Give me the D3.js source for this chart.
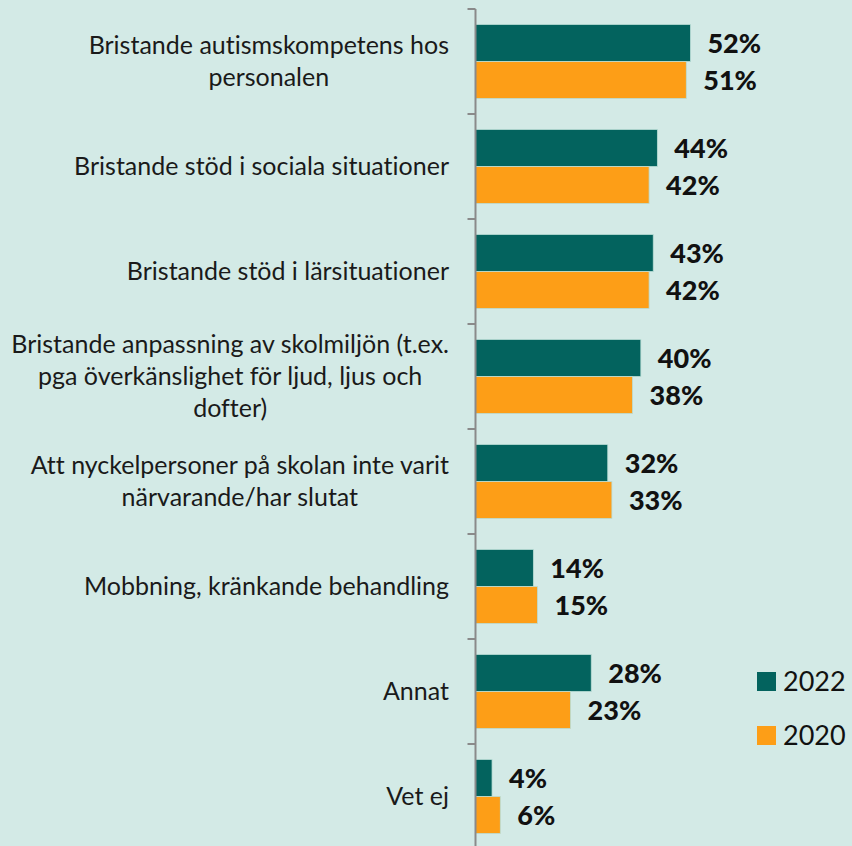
<!DOCTYPE html>
<html lang="sv">
<head>
<meta charset="utf-8">
<title>Orsaker</title>
<script src="https://cdn.jsdelivr.net/npm/d3@7"></script>
<style>
  html, body { margin: 0; padding: 0; background: #d3eae6; }
  svg { display: block; }
  text { font-variant-ligatures: none; font-feature-settings: "liga" 0, "clig" 0; }
</style>
</head>
<body>
<div id="chart"></div>
<script>
// data
var categories = [
  "Bristande autismskompetens hos|personalen",
  "Bristande stöd i sociala situationer",
  "Bristande stöd i lärsituationer",
  "Bristande anpassning av skolmiljön (t.ex.|pga överkänslighet för ljud, ljus och|dofter)",
  "Att nyckelpersoner på skolan inte varit|närvarande/har slutat",
  "Mobbning, kränkande behandling",
  "Annat",
  "Vet ej"
];
var years = ["2022", "2020"];
var values2022 = [52, 44, 43, 40, 32, 14, 28, 4];
var values2020 = [51, 42, 42, 38, 33, 15, 23, 6];
var colors = ["#03635e", "#fd9e17"];

var width = 852, height = 846;
var axisX = 475.5;

var svg = d3.select("#chart").append("svg")
  .attr("width", width).attr("height", height);

svg.append("rect").attr("width", width).attr("height", height).attr("fill", "#d3eae6");

var x = d3.scaleLinear().domain([0, 60]).range([axisX, axisX + 248]);

var y = d3.scaleBand().domain(categories)
  .range([9, 849])
  .paddingInner(0.295).paddingOuter(0.1475);

var y1 = d3.scaleBand().domain(years).range([0, y.bandwidth()]);

var rows = categories.map(function (c, i) {
  return { cat: c, vals: [values2022[i], values2020[i]] };
});

// bars
var groups = svg.selectAll("g.row").data(rows).enter()
  .append("g").attr("class", "row")
  .attr("transform", function (d) { return "translate(0," + y(d.cat) + ")"; });

groups.selectAll("rect").data(function (d) {
  return d.vals.map(function (v, j) { return { year: years[j], v: v, j: j }; });
}).enter().append("rect")
  .attr("x", x(0))
  .attr("y", function (d) { return y1(d.year); })
  .attr("width", function (d) { return x(d.v) - x(0); })
  .attr("height", y1.bandwidth())
  .attr("fill", function (d) { return colors[d.j]; })
  .attr("stroke", "#b8dcd5").attr("stroke-width", 0.8);

groups.selectAll("text.val").data(function (d) {
  return d.vals.map(function (v, j) { return { year: years[j], v: v }; });
}).enter().append("text").attr("class", "val")
  .attr("x", function (d) { return x(d.v) + 17; })
  .attr("y", function (d) { return y1(d.year) + y1.bandwidth() / 2; })
  .attr("dy", "0.36em")
  .attr("font-family", "Lato, sans-serif")
  .attr("font-weight", 900)
  .attr("font-size", 27)
  .attr("fill", "#111")
  .text(function (d) { return d.v + "%"; });

// axis line + ticks at band boundaries
var step = y.step();
var top0 = y.range()[0];
svg.append("line")
  .attr("x1", axisX).attr("x2", axisX)
  .attr("y1", top0).attr("y2", height)
  .attr("stroke", "#8a8a8a").attr("stroke-width", 2);
svg.selectAll("line.tick").data(d3.range(categories.length + 1)).enter()
  .append("line").attr("class", "tick")
  .attr("x1", axisX - 8).attr("x2", axisX)
  .attr("y1", function (i) { return top0 + i * step; })
  .attr("y2", function (i) { return top0 + i * step; })
  .attr("stroke", "#8a8a8a").attr("stroke-width", 2);

// category labels, centred lines, right edge at 449
var lineH = 32;
rows.forEach(function (r) {
  var lines = r.cat.split("|");
  var cy = y(r.cat) + y.bandwidth() / 2;
  var t = svg.append("text")
    .attr("font-family", "Lato, sans-serif")
    .attr("font-size", 25)
    .attr("fill", "#1a1a1a")
    .attr("text-anchor", "middle");
  var spans = lines.map(function (l, k) {
    return t.append("tspan")
      .attr("y", cy + (k - (lines.length - 1) / 2) * lineH)
      .attr("dy", "0.35em")
      .text(l);
  });
  var maxW = d3.max(spans, function (s) { return s.node().getComputedTextLength(); });
  var cx = 449 - maxW / 2;
  spans.forEach(function (s) { s.attr("x", cx); });
});

// legend
var legend = svg.selectAll("g.legend").data(years).enter()
  .append("g").attr("class", "legend")
  .attr("transform", function (d, i) { return "translate(757," + (672 + i * 54) + ")"; });
legend.append("rect").attr("width", 19).attr("height", 19)
  .attr("fill", function (d, i) { return colors[i]; });
legend.append("text")
  .attr("x", 26).attr("y", 9.5).attr("dy", "0.36em")
  .attr("font-family", "Lato, sans-serif")
  .attr("font-size", 27)
  .attr("fill", "#111")
  .text(function (d) { return d; });
</script>
</body>
</html>
